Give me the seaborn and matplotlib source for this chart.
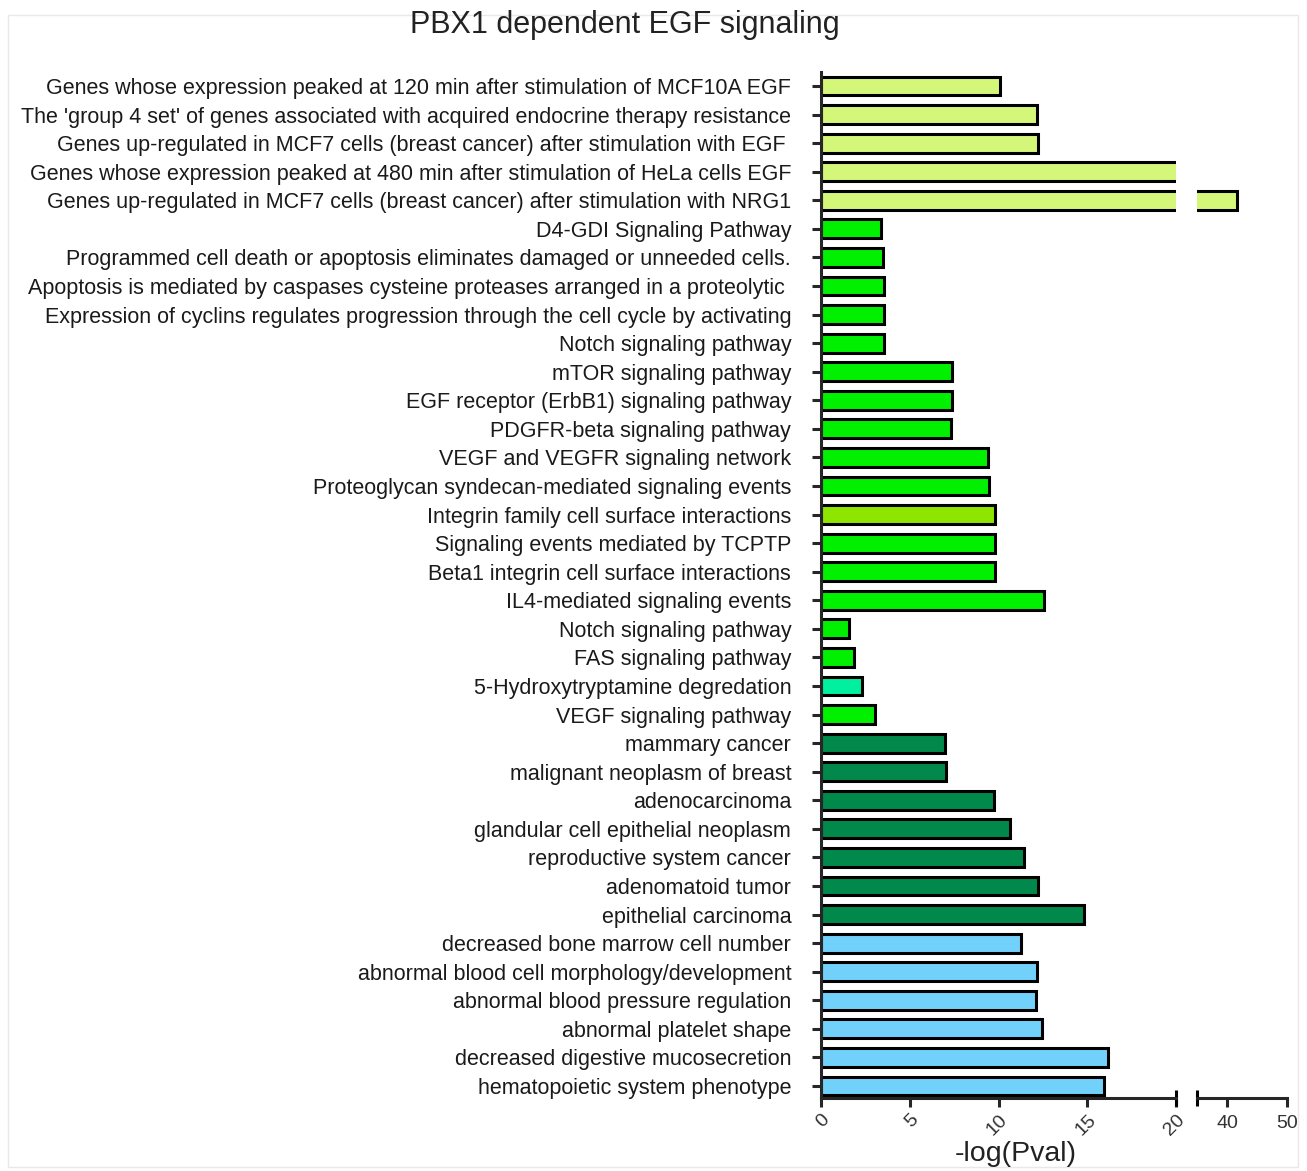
import matplotlib
matplotlib.use('Agg')
import matplotlib.pyplot as plt
import matplotlib.transforms as mtransforms
from matplotlib.patches import Rectangle
import seaborn as sns
import pandas as pd

labels = [
    "Genes whose expression peaked at 120 min after stimulation of MCF10A EGF",
    "The 'group 4 set' of genes associated with acquired endocrine therapy resistance",
    "Genes up-regulated in MCF7 cells (breast cancer) after stimulation with EGF ",
    "Genes whose expression peaked at 480 min after stimulation of HeLa cells EGF",
    "Genes up-regulated in MCF7 cells (breast cancer) after stimulation with NRG1",
    "D4-GDI Signaling Pathway",
    "Programmed cell death or apoptosis eliminates damaged or unneeded cells.",
    "Apoptosis is mediated by caspases cysteine proteases arranged in a proteolytic ",
    "Expression of cyclins regulates progression through the cell cycle by activating",
    "Notch signaling pathway",
    "mTOR signaling pathway",
    "EGF receptor (ErbB1) signaling pathway",
    "PDGFR-beta signaling pathway",
    "VEGF and VEGFR signaling network",
    "Proteoglycan syndecan-mediated signaling events",
    "Integrin family cell surface interactions",
    "Signaling events mediated by TCPTP",
    "Beta1 integrin cell surface interactions",
    "IL4-mediated signaling events",
    "Notch signaling pathway",
    "FAS signaling pathway",
    "5-Hydroxytryptamine degredation",
    "VEGF signaling pathway",
    "mammary cancer",
    "malignant neoplasm of breast",
    "adenocarcinoma",
    "glandular cell epithelial neoplasm",
    "reproductive system cancer",
    "adenomatoid tumor",
    "epithelial carcinoma",
    "decreased bone marrow cell number",
    "abnormal blood cell morphology/development",
    "abnormal blood pressure regulation",
    "abnormal platelet shape",
    "decreased digestive mucosecretion",
    "hematopoietic system phenotype",
]

values = [10.06, 12.17, 12.22, 25.0, 41.7,
          3.38, 3.48, 3.53, 3.53, 3.53,
          7.39, 7.39, 7.35, 9.42, 9.46,
          9.83, 9.78, 9.83, 12.56, 1.6,
          1.84, 2.31, 3.03,
          7.0, 7.07, 9.74, 10.63, 11.42, 12.25, 14.8,
          11.29, 12.17, 12.13, 12.45, 16.17, 15.93]

YG = '#d4f77a'
GR = '#00f000'
DG = '#00894a'
LB = '#72d1fa'
colors = [YG] * 5 + [GR] * 10 + ['#8ee600'] + [GR] * 5 + ['#00f0a0', GR] + [DG] * 7 + [LB] * 6

W, H = 1307, 1171

sns.set_style('ticks')
plt.rcParams['font.family'] = ['Liberation Sans', 'DejaVu Sans']

keys = [str(i) for i in range(len(labels))]
df = pd.DataFrame({'key': keys, 'value': values})
palette = dict(zip(keys, colors))

fig = plt.figure(figsize=(W / 100, H / 100), dpi=100)
ax1 = fig.add_axes([821 / W, 73 / H, 355 / W, 1026 / H])
ax2 = fig.add_axes([1197 / W, 73 / H, 90 / W, 1026 / H])

for ax in (ax1, ax2):
    sns.barplot(data=df, x='value', y='key', hue='key', palette=palette,
                order=keys, hue_order=keys, orient='h', dodge=False,
                width=0.66, edgecolor='black', linewidth=2.2, saturation=1,
                legend=False, ax=ax)
    ax.set_ylim(35.42, -0.49)
    ax.set_xlabel('')
    ax.set_ylabel('')
    ax.spines['top'].set_visible(False)
    ax.spines['right'].set_visible(False)
    ax.spines['bottom'].set_linewidth(2.2)
    ax.spines['left'].set_linewidth(2.2)
    ax.set_facecolor('none')

# first segment
ax1.set_xlim(0, 20)
ax1.set_xticks([0, 5, 10, 15, 20])
ax1.set_xticklabels(['0', '5', '10', '15', '20'], rotation=45, ha='right',
                    rotation_mode='anchor', fontsize=14, color='#333333')
ax1.set_yticks(range(len(labels)))
ax1.set_yticklabels(labels, fontsize=15.5, color='#1a1a1a')
ax1.tick_params(axis='y', length=6.5, width=2.2, pad=15)
ax1.tick_params(axis='x', length=6.5, width=2.2, pad=3)

# second segment
ax2.set_xlim(35, 50)
ax2.set_xticks([40, 50])
ax2.set_xticklabels(['40', '50'], fontsize=14, color='#333333')
ax2.spines['left'].set_visible(False)
ax2.set_yticks([])
ax2.tick_params(axis='x', length=6.5, width=2.2, pad=6)

# break caps
for ax, xv in ((ax1, 20), (ax2, 35)):
    tr = mtransforms.blended_transform_factory(ax.transData, ax.transAxes)
    ax.plot([xv, xv], [-0.008, 0.008], color='black', lw=2.2, transform=tr,
            clip_on=False, solid_capstyle='butt')

fig.text(1016 / W, 1 - 1154 / H, '-log(Pval)', fontsize=20.5, ha='center',
         va='center', color='#222222')
fig.text(625 / W, 1 - 25 / H, 'PBX1 dependent EGF signaling', fontsize=22,
         ha='center', va='center', color='#222222')

fig.patches.append(Rectangle((8 / W, 4 / H), 1290 / W, 1152 / H, fill=False,
                             ec='#e8e8e8', lw=1, transform=fig.transFigure))

fig.savefig('out.png', dpi=100)
